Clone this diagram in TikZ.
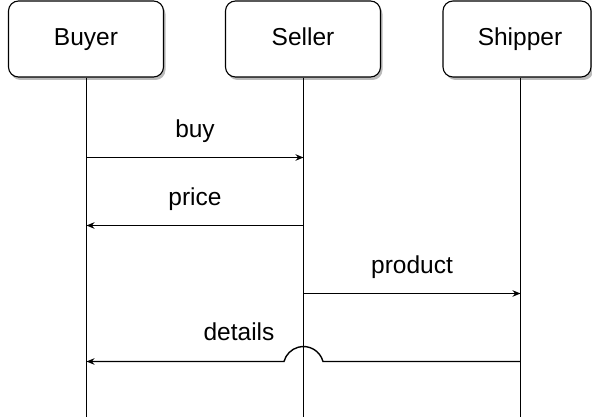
\documentclass[tikz,border=0pt]{standalone}
\usepackage{fontspec}
\setmainfont{Liberation Sans}
\usetikzlibrary{arrows.meta}
\begin{document}
\begin{tikzpicture}[x=1pt,y=-1pt,
  actor/.style={draw=black, line width=1.1pt, fill=white, rounded corners=10pt,
    minimum height=76pt, inner sep=0pt, text height=17.5pt, text depth=5pt,
    font=\fontsize{24.5}{28}\selectfont},
  shade/.style={fill=black!45, rounded corners=10pt, draw=none, opacity=0.6},
  life/.style={line width=1.5pt},
  msg/.style={line width=1.4pt, -{Stealth[length=8pt,width=6.5pt]}},
  lbl/.style={anchor=base, inner sep=0pt, font=\fontsize{24.5}{28}\selectfont}
]
\useasboundingbox (0,0) rectangle (592,419);
% shadows
\fill[shade] (10.5,4) rectangle (165.5,80);
\fill[shade] (227.5,4) rectangle (382.5,80);
\fill[shade] (445.5,4) rectangle (593.5,80);
% actors
\node[actor, minimum width=155pt] (buyer) at (86,39) {Buyer};
\node[actor, minimum width=155pt] (seller) at (303,39) {Seller};
\node[actor, minimum width=148pt] (shipper) at (517,39) {\hspace*{6pt}Shipper};
% lifeline ends
\coordinate (bEnd) at (86.5,417);
\coordinate (sEnd) at (303.5,417);
\coordinate (pEnd) at (520.5,417);
\draw[life] ([xshift=0.5pt]buyer.south) -- (bEnd);
\draw[life] ([xshift=0.5pt]seller.south) -- (sEnd);
\draw[life] ([xshift=3.5pt]shipper.south) -- (pEnd);
% message points
\coordinate (b1) at (86.5,157.5);  \coordinate (s1) at (303.5,157.5);
\coordinate (s2) at (303.5,225.5); \coordinate (b2) at (86.5,225.5);
\coordinate (s3) at (303.5,293.5); \coordinate (p3) at (520.5,293.5);
\coordinate (p4) at (520.5,361.5); \coordinate (j4) at (323,361.5); \coordinate (b4) at (86.5,361.5);
\draw[msg] (b1) -- (s1) node[lbl, midway, yshift=20pt] {buy};
\draw[msg] (s2) -- (b2) node[lbl, midway, yshift=20pt] {price};
\draw[msg] (s3) -- (p3) node[lbl, midway, yshift=20pt] {product};
\draw[msg] (p4) -- (j4) arc[start angle=-15, end angle=-165, radius=20.2] -- (b4);
\node[lbl] (dlbl) at (239,341) {details};
\end{tikzpicture}
\end{document}
